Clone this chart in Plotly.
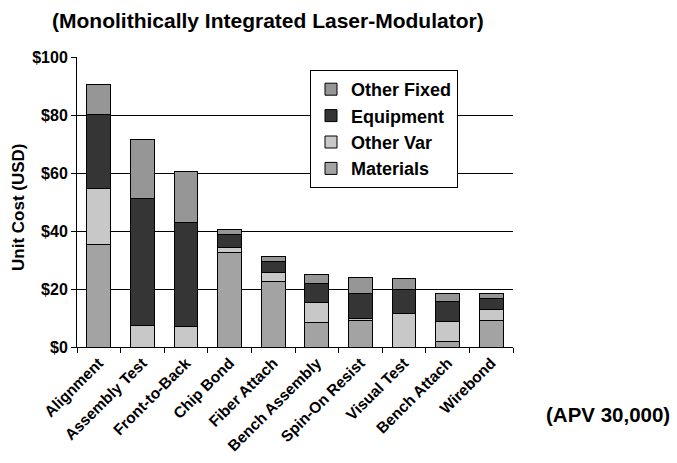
import plotly.graph_objects as go

# Process steps (x categories)
steps = ["Alignment", "Assembly Test", "Front-to-Back", "Chip Bond", "Fiber Attach",
         "Bench Assembly", "Spin-On Resist", "Visual Test", "Bench Attach", "Wirebond"]

# Unit cost components in USD, stacked bottom to top
materials = [35.2, 0.0, 0.0, 32.5, 22.6, 8.4, 9.3, 0.0, 1.9, 9.1]
other_var = [19.5, 7.4, 7.0, 1.7, 3.0, 6.9, 0.5, 11.5, 6.8, 3.8]
equipment = [25.5, 43.7, 35.8, 4.6, 3.8, 6.5, 8.5, 8.3, 6.9, 3.8]
other_fixed = [10.4, 20.3, 17.7, 1.6, 1.7, 3.1, 5.8, 3.7, 2.8, 1.7]

y_ticks = [0, 20, 40, 60, 80, 100]
y_tick_text = ["$0", "$20", "$40", "$60", "$80", "$100"]

FONT = "Arial, Liberation Sans, sans-serif"

W, H = 677, 463
ML, MR, MT, MB = 77, 164, 57, 116

series = [
    ("Materials", materials, "#a3a3a3"),
    ("Other Var", other_var, "#c8c8c8"),
    ("Equipment", equipment, "#353535"),
    ("Other Fixed", other_fixed, "#969696"),
]

fig = go.Figure()
for name, vals, color in series:
    fig.add_trace(go.Bar(
        x=steps, y=vals, name=f"<b>{name}</b>",
        marker=dict(color=color, line=dict(color="black", width=1)),
    ))


def px_to_paper(x, y):
    """Convert page pixel coordinates to paper coordinates of the plot area."""
    return (x - ML) / (W - ML - MR), (H - y - MB) / (H - MT - MB)


tx, ty = px_to_paper(268, 20)
ax_, ay_ = px_to_paper(608, 414)
yx, yy = px_to_paper(18, 208)
lx, ly = px_to_paper(310, 70)

fig.update_layout(
    barmode="stack",
    bargap=0.45,
    width=W, height=H,
    margin=dict(l=ML, r=MR, t=MT, b=MB),
    paper_bgcolor="white",
    plot_bgcolor="white",
    font=dict(family=FONT, color="black"),
    showlegend=True,
    legend=dict(
        traceorder="reversed",
        x=lx, y=ly, xanchor="left", yanchor="top",
        bgcolor="white", bordercolor="black", borderwidth=1,
        font=dict(family=FONT, size=18, color="black"),
        itemwidth=30, tracegroupgap=0,
    ),
    xaxis=dict(
        automargin=False,
        showline=True, linecolor="black", linewidth=1,
        ticks="outside", tickson="boundaries", ticklen=5, tickcolor="black",
        tickangle=-45,
        tickvals=steps, ticktext=[f"<b>{s}</b>" for s in steps],
        tickfont=dict(family=FONT, size=15.5, color="black"),
        showgrid=False,
    ),
    yaxis=dict(
        automargin=False,
        range=[0, 100],
        tickvals=y_ticks, ticktext=[f"<b>{t}</b>" for t in y_tick_text],
        showline=True, linecolor="black", linewidth=1,
        ticks="outside", ticklen=5, tickcolor="black",
        showgrid=True, gridcolor="black", gridwidth=1,
        zeroline=False,
        tickfont=dict(family=FONT, size=16, color="black"),
    ),
    annotations=[
        dict(text="<b>(Monolithically Integrated Laser-Modulator)</b>",
             xref="paper", yref="paper", x=tx, y=ty,
             xanchor="center", yanchor="middle", showarrow=False,
             font=dict(family=FONT, size=21, color="black")),
        dict(text="<b>(APV 30,000)</b>",
             xref="paper", yref="paper", x=ax_, y=ay_,
             xanchor="center", yanchor="middle", showarrow=False,
             font=dict(family=FONT, size=20.5, color="black")),
        dict(text="<b>Unit Cost (USD)</b>",
             xref="paper", yref="paper", x=yx, y=yy, textangle=-90,
             xanchor="center", yanchor="middle", showarrow=False,
             font=dict(family=FONT, size=17, color="black")),
    ],
)

fig.write_html("out.html")
